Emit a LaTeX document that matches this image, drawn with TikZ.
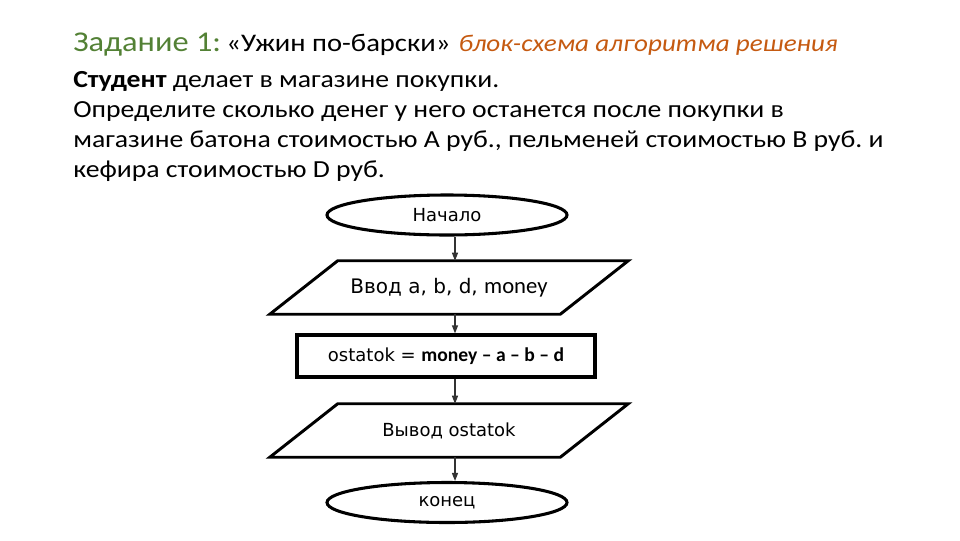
\documentclass[tikz,border=0pt]{standalone}
\usepackage{fontspec}
\setmainfont{Carlito}[FakeStretch=1.13]
\newfontfamily\chartfont{DejaVu Sans}
\newfontfamily\moneyfont{Carlito}
\usetikzlibrary{shapes.geometric}
\usetikzlibrary{arrows.meta}
\definecolor{titlegreen}{HTML}{538135}
\definecolor{titleorange}{HTML}{C55A11}
\frenchspacing

\begin{document}
\begin{tikzpicture}[x=0.75pt,y=0.75pt,yscale=-1,xscale=1,
  terminal/.style={ellipse,draw,line width=2.3pt,minimum width=180pt,minimum height=30pt,inner sep=0pt,font=\chartfont\fontsize{13.5}{16}\selectfont},
  iobox/.style={rectangle,minimum width=217.5pt,minimum height=39.75pt,inner sep=0pt,font=\chartfont\fontsize{13.5}{16}\selectfont},
  ioline/.style={line width=2.2pt,line join=miter},
  procbox/.style={rectangle,draw,line width=2.4pt,minimum width=223.5pt,minimum height=31.5pt,inner sep=0pt,font=\chartfont\fontsize{13.5}{16}\selectfont},
  flow/.style={draw=black!80,line width=0.9pt,-{Triangle[length=6pt,width=4.5pt]}},
  bodytext/.style={anchor=base west,inner sep=0pt,font=\fontsize{18.4}{22.5}\selectfont}]
\useasboundingbox (0,0) rectangle (960,540);

% Title
\node [anchor=base west,inner sep=0pt] (title) at (73,51) {{\color{titlegreen}\fontsize{21.5}{25}\selectfont Задание 1:}\hspace{4pt}{\fontsize{19}{22}\selectfont «Ужин по-барски»}\hspace{6pt}{\color{titleorange}\fontsize{18}{22}\selectfont\itshape блок-схема алгоритма решения}};
% Task text
\node [bodytext] (line1) at (73,87) {\textbf{Студент} делает в магазине покупки.};
\node [bodytext] (line2) at (73,117) {Определите сколько денег у него останется после покупки в};
\node [bodytext] (line3) at (73,147) {магазине батона стоимостью А руб., пельменей стоимостью В руб. и};
\node [bodytext] (line4) at (73,177) {кефира стоимостью D руб.};

% Flowchart
\coordinate (axis) at (455,0);
\node [terminal] (start) at (447,215) {Начало};
\node [iobox,font=\chartfont\fontsize{15}{17}\selectfont] (input) at (449,287.5) {Ввод a, b, d, {\moneyfont\fontsize{17}{18}\selectfont money}};
\node [procbox] (calc) at (446,356) {ostatok =\ {\moneyfont\bfseries\fontsize{14.7}{16}\selectfont money – a – b – d}};
\node [iobox] (output) at (449,430.5) {Вывод ostatok};
\node [terminal] (stop) at (447,502.5) {конец};

% parallelogram outlines
\draw [ioline] ([xshift=-25.5pt]input.south west) -- ([xshift=-25.5pt]input.south east) -- ([xshift=25.5pt]input.north east) -- ([xshift=25.5pt]input.north west) -- cycle;
\draw [ioline] ([xshift=-25.5pt]output.south west) -- ([xshift=-25.5pt]output.south east) -- ([xshift=25.5pt]output.north east) -- ([xshift=25.5pt]output.north west) -- cycle;

\draw [flow] (start.south -| axis) -- (input.north -| axis);
\draw [flow] (input.south -| axis) -- (calc.north -| axis);
\draw [flow] (calc.south -| axis) -- (output.north -| axis);
\draw [flow] (output.south -| axis) -- (stop.north -| axis);

\end{tikzpicture}
\end{document}
